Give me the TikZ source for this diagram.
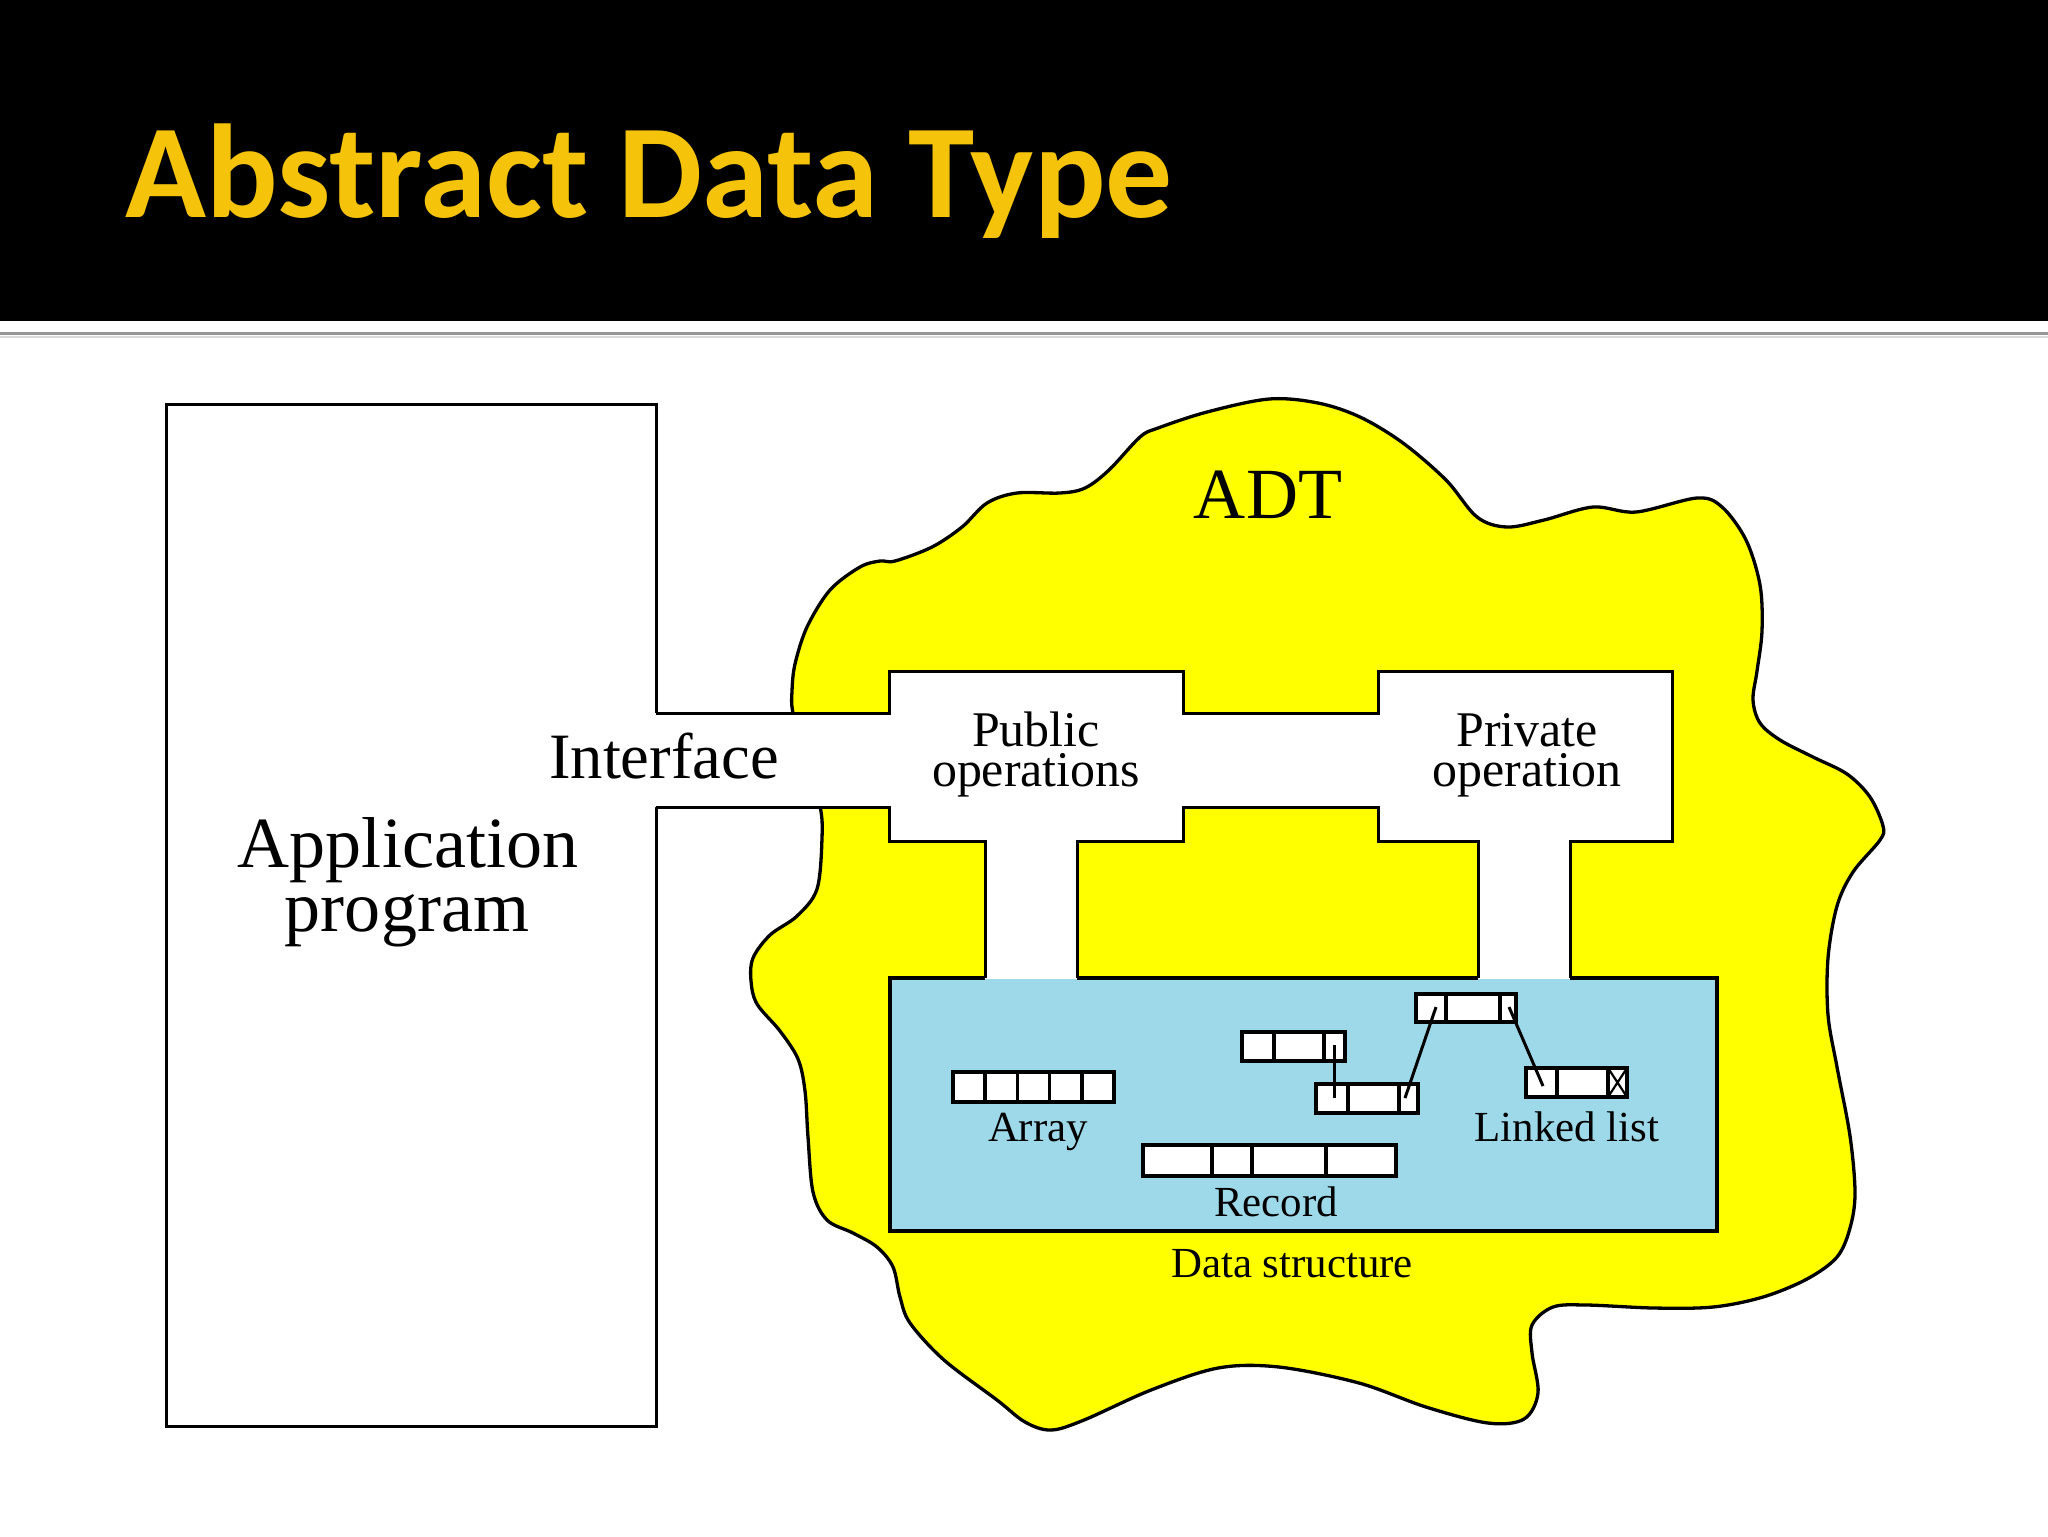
\documentclass[tikz,border=0pt]{standalone}
\usepackage{fontspec}
\setmainfont{Liberation Serif}
\newfontfamily\titlefont{Carlito}
\definecolor{titlegold}{RGB}{245,196,10}
\definecolor{adtyellow}{RGB}{255,255,0}
\definecolor{dsblue}{RGB}{158,217,233}
\definecolor{sepgray}{RGB}{150,150,150}
\tikzset{
  outline/.style={line width=0.3mm, line join=miter},
  dsborder/.style={line width=0.38mm, line join=miter},
  cell/.style={draw, fill=white, line width=0.36mm},
  lbl/.style={inner sep=0, anchor=base},
  ptr/.style={line width=0.3mm},
  bigtxt/.style={font=\fontsize{20.5}{22}\selectfont},
  midtxt/.style={font=\fontsize{14.2}{16}\selectfont},
  smalltxt/.style={font=\fontsize{12.2}{14}\selectfont},
}
\begin{document}
\begin{tikzpicture}[x=0.1mm,y=-0.1mm]
\useasboundingbox (0,0) rectangle (2048,1536);
\fill[white] (0,0) rectangle (2048,1536);
% title band
\fill[black] (0,0) rectangle (2048,321);
\draw[sepgray, line width=0.3mm] (0,333.5) -- (2048,333.5);
\draw[sepgray!35, line width=0.2mm] (0,337) -- (2048,337);
\node[lbl, anchor=base west, font=\titlefont\bfseries\fontsize{38}{40}\selectfont, text=titlegold] (title) at (125,217) {Abstract Data Type};

% application program box (open towards the interface)
\draw[outline] (656,713) -- (656,404) -- (166,404) -- (166,1426) -- (656,1426) -- (656,807);

% ADT cloud
\draw[outline, line width=0.33mm, fill=adtyellow] plot[smooth cycle, tension=0.55] coordinates {
 (751,981) (753,958) (770,935) (797,916) (817,889) (822,838) (820,806) (806,760)
 (793,713) (792,691) (795,664) (807,627) (830,590) (860,567) (880,561) (895,561)
 (932,547) (962,527) (987,503) (1017,493) (1060,493) (1085,488) (1109,470)
 (1140,437) (1158,428) (1207,412) (1269,399) (1318,403) (1360,417) (1403,443)
 (1446,480) (1477,517) (1507,527) (1544,520) (1593,507) (1636,512) (1697,498)
 (1722,507) (1746,540) (1760,585) (1762,631) (1757,671) (1753,700) (1760,723)
 (1780,740) (1813,757) (1847,774) (1870,797) (1883,826) (1880,840) (1853,872)
 (1837,906) (1828,958) (1828,1015) (1837,1067) (1850,1136) (1855,1193)
 (1850,1228) (1837,1257) (1807,1279) (1763,1297) (1713,1307) (1654,1308)
 (1587,1305) (1553,1307) (1532,1325) (1532,1353) (1538,1393) (1524,1419)
 (1488,1423) (1426,1407) (1359,1383) (1279,1367) (1218,1368) (1151,1390)
 (1084,1420) (1051,1430) (1025,1422) (997,1400) (944,1360) (910,1323)
 (900,1297) (893,1267) (877,1247) (853,1233) (827,1220) (813,1192) (808,1137)
 (805,1091) (798,1059) (780,1031) (757,1004)
};

% interface channel, operation boxes and legs (white)
\fill[white] (654,713) -- (889,713) -- (889,671) -- (1183,671) -- (1183,713)
  -- (1378,713) -- (1378,671) -- (1672,671) -- (1672,841) -- (1570,841)
  -- (1570,979) -- (1478,979) -- (1478,841) -- (1378,841) -- (1378,807)
  -- (1183,807) -- (1183,841) -- (1077,841) -- (1077,979) -- (985,979)
  -- (985,841) -- (889,841) -- (889,807) -- (654,807) -- cycle;
\draw[outline] (656,713) -- (889,713) -- (889,671) -- (1183,671) -- (1183,713)
  -- (1378,713) -- (1378,671) -- (1672,671) -- (1672,841) -- (1570,841) -- (1570,978);
\draw[outline] (1478,978) -- (1478,841) -- (1378,841) -- (1378,807) -- (1183,807)
  -- (1183,841) -- (1077,841) -- (1077,978);
\draw[outline] (985,978) -- (985,841) -- (889,841) -- (889,807) -- (656,807);

% data structure box
\fill[dsblue] (890,979) rectangle (1717,1231);
\draw[dsborder] (985,978) -- (890,978) -- (890,1231) -- (1717,1231) -- (1717,978) -- (1570,978);
\draw[dsborder] (1077,978) -- (1478,978);

% array
\foreach \i in {0,...,4} {
  \draw[cell] ({953+32.2*\i},1072) rectangle ++(32.2,30);
}
% record
\draw[cell] (1143,1145) rectangle (1396,1176);
\foreach \xx in {1212,1252,1326} { \draw[line width=0.36mm] (\xx,1145) -- (\xx,1176); }

% linked list nodes
\draw[cell] (1242,1032) rectangle (1345,1061);
\draw[line width=0.36mm] (1274,1032) -- (1274,1061) (1324,1032) -- (1324,1061);
\draw[cell] (1316,1084) rectangle (1418,1113);
\draw[line width=0.36mm] (1348,1084) -- (1348,1113) (1399,1084) -- (1399,1113);
\draw[cell] (1416,994) rectangle (1516,1022);
\draw[line width=0.36mm] (1446,994) -- (1446,1022) (1500,994) -- (1500,1022);
\draw[cell] (1526,1068) rectangle (1627,1097);
\draw[line width=0.36mm] (1557,1068) -- (1557,1097) (1608,1068) -- (1608,1097);
\draw[line width=0.22mm] (1608,1068) -- (1627,1097) (1608,1097) -- (1627,1068);

% pointers
\coordinate (pA) at (1334,1045);
\coordinate (qB) at (1334,1098);
\coordinate (pB) at (1405,1098);
\coordinate (qC) at (1436,1007);
\coordinate (pC) at (1509,1007);
\coordinate (qD) at (1543,1086);
\draw[ptr] (pA) -- (qB);
\draw[ptr] (pB) -- (qC);
\draw[ptr] (pC) -- (qD);

% labels
\node[lbl, bigtxt] (app1) at (408,867) {Application};
\node[lbl, bigtxt] (app2) at (407,931) {program};
\node[lbl, font=\fontsize{18.4}{20}\selectfont] (iface) at (664,778) {Interface};
\node[lbl, bigtxt] (adt) at (1268,518) {ADT};
\node[lbl, midtxt] (pub1) at (1036,746) {Public};
\node[lbl, midtxt] (pub2) at (1036,786) {operations};
\node[lbl, midtxt] (priv1) at (1527,746) {Private};
\node[lbl, midtxt] (priv2) at (1527,786) {operation};
\node[lbl, smalltxt] (arr) at (1038,1141) {Array};
\node[lbl, smalltxt] (ll) at (1567,1141) {Linked list};
\node[lbl, smalltxt] (rec) at (1276,1216) {Record};
\node[lbl, smalltxt] (ds) at (1292,1277) {Data structure};
\end{tikzpicture}
\end{document}
